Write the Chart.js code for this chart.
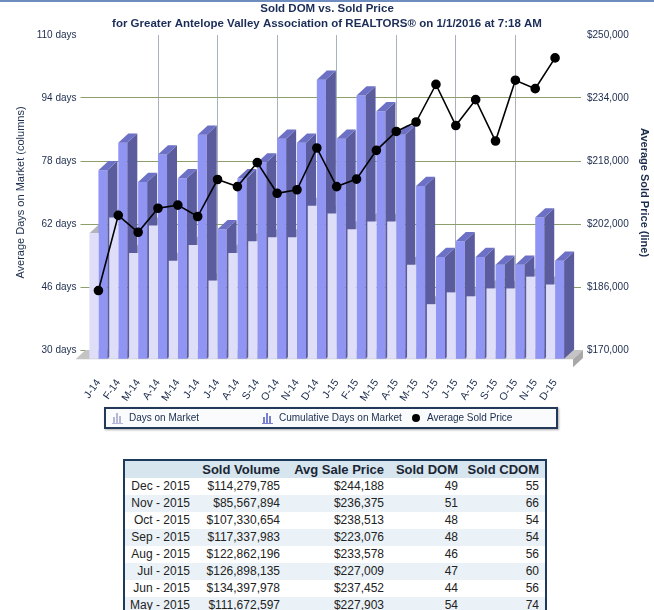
<!DOCTYPE html>
<html lang="en">
<head>
<meta charset="UTF-8">
<title>Sold DOM vs. Sold Price</title>
<style>
    body {
        margin: 0;
        background: #fff;
        font-family: Arial, "Liberation Sans", sans-serif;
    }
    .page {
        position: relative;
        width: 654px;
        height: 610px;
        overflow: hidden;
    }
    .topline {
        position: absolute;
        left: 0; top: 0;
        width: 654px; height: 2px;
        background: #6f8cbf;
    }
    #chart {
        position: absolute;
        left: 0; top: 0;
    }
    .legend {
        position: absolute;
        left: 104px; top: 407px;
        width: 450px; height: 18px;
        border: 2px solid #22395a;
        background: #f9fbfd;
        box-shadow: 1px 1px 2px #aaa;
        font-size: 10px;
        color: #1c2c4c;
    }
    .legend .item {
        position: absolute;
        top: 3px;
        height: 12px;
        line-height: 12px;
        white-space: nowrap;
    }
    .legend svg, .legend .dot {
        position: absolute;
        left: 0; top: 0;
    }
    .legend .dot {
        top: 2px;
        width: 8px; height: 8px;
        border-radius: 50%;
        background: #000;
    }
    .legend .text {
        position: absolute;
        left: 17px; top: 0;
    }
    table.stats {
        position: absolute;
        left: 123px; top: 459px;
        width: 422px;
        table-layout: fixed;
        border-collapse: collapse;
        border: 2px solid #1d3a5c;
        font-size: 12px;
        color: #222;
    }
    table.stats th {
        background: #d6e5ee;
        font-size: 13px;
        color: #1a2535;
        text-align: right;
        padding: 0 6px 0 0;
        height: 17px;
        line-height: 17px;
    }
    table.stats td {
        text-align: right;
        padding: 0 6px 0 0;
        height: 17px;
        line-height: 17px;
        white-space: nowrap;
    }
    table.stats tbody tr:nth-child(even) td {
        background: #ebf2f7;
    }
</style>
</head>
<body>
<div class="page">
    <canvas id="chart" width="654" height="450"></canvas>
    <div class="topline"></div>
    <div class="legend" id="legend"></div>
    <table class="stats" id="stats">
        <colgroup>
            <col style="width:72px"><col style="width:90px"><col style="width:104px"><col style="width:74px"><col style="width:82px">
        </colgroup>
        <thead>
            <tr><th></th><th>Sold Volume</th><th>Avg Sale Price</th><th>Sold DOM</th><th>Sold CDOM</th></tr>
        </thead>
        <tbody></tbody>
    </table>
</div>

<script src="https://cdn.jsdelivr.net/npm/chart.js"></script>
<script>
    const months = ['J-14', 'F-14', 'M-14', 'A-14', 'M-14', 'J-14', 'J-14', 'A-14', 'S-14', 'O-14', 'N-14', 'D-14',
                    'J-15', 'F-15', 'M-15', 'A-15', 'M-15', 'J-15', 'J-15', 'A-15', 'S-15', 'O-15', 'N-15', 'D-15'];
    const daysOnMarket = [62, 66, 57, 64, 55, 59, 50, 57, 60, 61, 61, 69, 67, 63, 65, 65, 54, 44, 47, 46, 48, 48, 51, 49];
    const cumulativeDays = [78, 85, 75, 82, 76, 87, 63, 76, 80, 86, 85, 101, 86, 97, 93, 87, 74, 56, 60, 56, 54, 54, 66, 55];
    const avgSoldPrice = [185100, 204200, 199900, 206000, 206800, 203900, 213300, 211500, 217600, 209800, 210700, 221300,
                          211500, 213400, 220700, 225500, 227903, 237452, 227009, 233578, 223076, 238513, 236375, 244188];
    const dayTicks = [30, 46, 62, 78, 94, 110];
    const priceTicks = [170000, 186000, 202000, 218000, 234000, 250000];

    const tableMonths = ['Dec - 2015', 'Nov - 2015', 'Oct - 2015', 'Sep - 2015', 'Aug - 2015', 'Jul - 2015', 'Jun - 2015', 'May - 2015'];
    const soldVolume = [114279785, 85567894, 107330654, 117337983, 122862196, 126898135, 134397978, 111672597];

    const navy = '#1c2c4c';
    const gridGreen = '#8c9e6c';
    const money = v => '$' + v.toLocaleString('en-US');

    // 3d look: bars sit one step in front of the grid plane
    const DX = 10, DY = 9.3;

    function quad(ctx, pts, color) {
        ctx.fillStyle = color;
        ctx.beginPath();
        ctx.moveTo(pts[0][0], pts[0][1]);
        for (let i = 1; i < pts.length; i++) ctx.lineTo(pts[i][0], pts[i][1]);
        ctx.closePath();
        ctx.fill();
    }

    const depth3d = {
        id: 'depth3d',
        beforeDatasetsDraw(chart) {
            const ctx = chart.ctx;
            const a = chart.chartArea;
            const l = a.left - 13, r = a.right + 8, b = a.bottom;
            ctx.save();
            // floor
            quad(ctx, [[l, b], [r, b], [r - DX, b + DY], [l - DX, b + DY]], '#c4c4c4');
            quad(ctx, [[r - DX, b + DY], [r, b], [r, b + 8], [r - DX, b + DY + 8]], '#a8a8a8');
            // tops of the front (light) bars, partly hidden by the dark ones
            ctx.translate(-DX, DY);
            chart.getDatasetMeta(0).data.forEach(bar => {
                const p = bar.getProps(['x', 'y', 'width'], true);
                const x0 = p.x - p.width / 2, x1 = p.x + p.width / 2;
                quad(ctx, [[x0, p.y], [x1, p.y], [x1 + DX, p.y - DY], [x0 + DX, p.y - DY]], '#b3b3bb');
            });
            ctx.restore();
        },
        beforeDatasetDraw(chart, args) {
            const ctx = chart.ctx;
            ctx.save();
            if (args.meta.type === 'bar') ctx.translate(-DX, DY);
            else ctx.translate(-DX, 0);
        },
        afterDatasetDraw(chart, args) {
            const ctx = chart.ctx;
            if (args.index === 1) {
                args.meta.data.forEach(bar => {
                    const p = bar.getProps(['x', 'y', 'base', 'width'], true);
                    const x0 = p.x - p.width / 2, x1 = p.x + p.width / 2;
                    quad(ctx, [[x1, p.y], [x1 + DX, p.y - DY], [x1 + DX, p.base - DY], [x1, p.base]], '#5a5c9e');
                    quad(ctx, [[x0, p.y], [x1, p.y], [x1 + DX, p.y - DY], [x0 + DX, p.y - DY]], '#6d71c6');
                });
            }
            ctx.restore();
        }
    };

    const chart = new Chart(document.getElementById('chart'), {
        type: 'bar',
        data: {
            labels: months,
            datasets: [
                {
                    label: 'Days on Market',
                    data: daysOnMarket,
                    backgroundColor: '#dedef9',
                    yAxisID: 'y',
                    base: dayTicks[0],
                    order: 1,
                    categoryPercentage: 0.91,
                    barPercentage: 1,
                    clip: false
                },
                {
                    label: 'Cumulative Days on Market',
                    data: cumulativeDays,
                    backgroundColor: '#9094f2',
                    yAxisID: 'y',
                    base: dayTicks[0],
                    order: 2,
                    categoryPercentage: 0.91,
                    barPercentage: 1,
                    clip: false
                },
                {
                    type: 'line',
                    label: 'Average Sold Price',
                    data: avgSoldPrice,
                    yAxisID: 'y1',
                    borderColor: '#000',
                    borderWidth: 1.6,
                    pointRadius: 4,
                    pointBackgroundColor: '#000',
                    pointBorderColor: '#000',
                    tension: 0,
                    order: 0,
                    clip: false
                }
            ]
        },
        options: {
            responsive: false,
            animation: false,
            layout: { padding: 0 },
            plugins: {
                legend: { display: false },
                tooltip: { enabled: false },
                title: {
                    display: true,
                    text: 'Sold DOM vs. Sold Price',
                    color: '#1b2d57',
                    font: { family: 'Arial, "Liberation Sans"', size: 11.5, weight: 'bold', lineHeight: 1.2 },
                    padding: { top: 2, bottom: 0 }
                },
                subtitle: {
                    display: true,
                    text: 'for Greater Antelope Valley Association of REALTORS\u00AE on 1/1/2016 at 7:18 AM',
                    color: '#1b2d57',
                    font: { family: 'Arial, "Liberation Sans"', size: 11.5, weight: 'bold', lineHeight: 1.2 },
                    padding: { top: 1, bottom: 4.4 }
                }
            },
            scales: {
                x: {
                    offset: true,
                    border: { display: false },
                    grid: {
                        offset: true,
                        drawTicks: false,
                        color: c => (c.index > 0 && c.index % 3 === 0) ? '#a9b1c1' : 'rgba(0,0,0,0)'
                    },
                    ticks: {
                        autoSkip: false,
                        minRotation: 55,
                        maxRotation: 55,
                        labelOffset: -10,
                        padding: 27,
                        color: navy,
                        font: { family: 'Arial, "Liberation Sans"', size: 10.5 }
                    },
                    afterFit: s => { s.height = 100; }
                },
                y: {
                    position: 'left',
                    min: 30,
                    max: 110,
                    afterBuildTicks: s => { s.ticks = dayTicks.map(v => ({ value: v })); },
                    border: { display: false },
                    grid: {
                        tickLength: 18,
                        color: c => (c.tick && c.tick.value === 110) ? 'rgba(0,0,0,0)' : gridGreen
                    },
                    ticks: {
                        padding: 4,
                        color: navy,
                        font: { family: 'Arial, "Liberation Sans"', size: 10 },
                        callback: v => v + ' days'
                    },
                    title: {
                        display: true,
                        text: 'Average Days on Market (columns)',
                        color: navy,
                        font: { family: 'Arial, "Liberation Sans"', size: 11 },
                        padding: { top: 14, bottom: 0 }
                    },
                    afterFit: s => { s.width = 98.5; }
                },
                y1: {
                    position: 'right',
                    min: 170000,
                    max: 250000,
                    afterBuildTicks: s => { s.ticks = priceTicks.map(v => ({ value: v })); },
                    border: { display: false },
                    grid: {
                        drawOnChartArea: false,
                        tickLength: 6,
                        color: c => (c.tick && c.tick.value === 250000) ? 'rgba(0,0,0,0)' : gridGreen
                    },
                    ticks: {
                        padding: 6,
                        color: navy,
                        font: { family: 'Arial, "Liberation Sans"', size: 10 },
                        callback: v => money(v)
                    },
                    title: {
                        display: true,
                        text: 'Average Sold Price (line)',
                        color: navy,
                        font: { family: 'Arial, "Liberation Sans"', size: 11, weight: 'bold' },
                        padding: { top: 3, bottom: 0 }
                    },
                    afterFit: s => { s.width = 79; }
                }
            }
        },
        plugins: [depth3d]
    });

    // legend, built from the dataset labels
    const icon = color => '<svg width="12" height="12"><g fill="' + color + '">' +
        '<rect x="1" y="5" width="2" height="6"/><rect x="4" y="1" width="2" height="10"/>' +
        '<rect x="7" y="4" width="2" height="7"/><rect x="0" y="11" width="11" height="1"/></g></svg>';
    const legendIcons = [icon('#b6b6d6'), icon('#7b7fd2'), '<span class="dot"></span>'];
    document.getElementById('legend').innerHTML = chart.data.datasets.map((ds, i) =>
        '<div class="item" style="left:' + (6 + i * 150) + 'px">' + legendIcons[i] +
        '<span class="text"' + (i === 2 ? ' style="left:15px"' : '') + '>' + ds.label + '</span></div>'
    ).join('');

    // summary table, newest month first
    const n = months.length;
    document.querySelector('#stats tbody').innerHTML = tableMonths.map((m, i) =>
        '<tr><td>' + m + '</td><td>' + money(soldVolume[i]) + '</td><td>' + money(avgSoldPrice[n - 1 - i]) +
        '</td><td>' + daysOnMarket[n - 1 - i] + '</td><td>' + cumulativeDays[n - 1 - i] + '</td></tr>'
    ).join('');
</script>
</body>
</html>
